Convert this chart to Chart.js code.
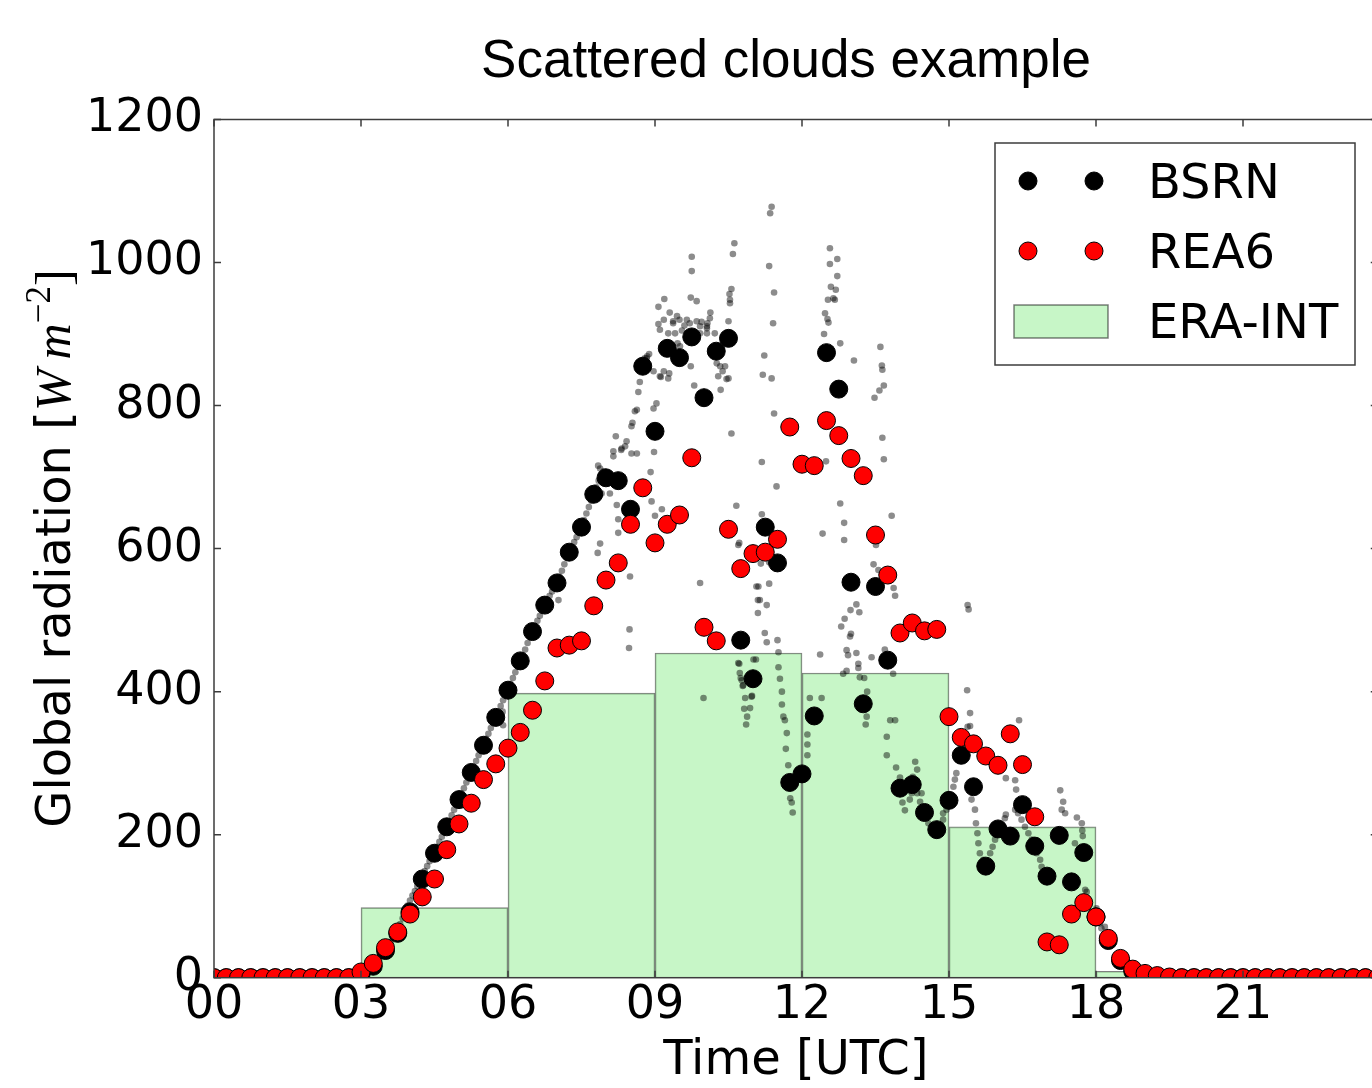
<!DOCTYPE html>
<html>
<head>
<meta charset="utf-8">
<script src="https://cdn.jsdelivr.net/npm/chart.js@4.4.1/dist/chart.umd.min.js"></script>
<style>
  html, body { margin: 0; padding: 0; overflow: hidden; background: #fff; }
  #wrap { width: 1400px; height: 1088px; }
</style>
</head>
<body>
<div id="wrap"><canvas id="chart" width="1400" height="1088"></canvas></div>
<script>
const chartTitle = 'Scattered clouds example';
const xTitle = 'Time [UTC]';

const xTickValues = [0, 3, 6, 9, 12, 15, 18, 21];
const xTickLabels = ['00', '03', '06', '09', '12', '15', '18', '21'];
const yTickValues = [0, 200, 400, 600, 800, 1000, 1200];

// 15 min time steps (hours UTC)
const quarterHours = [
  0, 0.25, 0.5, 0.75, 1, 1.25, 1.5, 1.75, 2, 2.25, 2.5, 2.75,
  3, 3.25, 3.5, 3.75, 4, 4.25, 4.5, 4.75, 5, 5.25, 5.5, 5.75,
  6, 6.25, 6.5, 6.75, 7, 7.25, 7.5, 7.75, 8, 8.25, 8.5, 8.75,
  9, 9.25, 9.5, 9.75, 10, 10.25, 10.5, 10.75, 11, 11.25, 11.5, 11.75,
  12, 12.25, 12.5, 12.75, 13, 13.25, 13.5, 13.75, 14, 14.25, 14.5, 14.75,
  15, 15.25, 15.5, 15.75, 16, 16.25, 16.5, 16.75, 17, 17.25, 17.5, 17.75,
  18, 18.25, 18.5, 18.75, 19, 19.25, 19.5, 19.75, 20, 20.25, 20.5, 20.75,
  21, 21.25, 21.5, 21.75, 22, 22.25, 22.5, 22.75, 23, 23.25, 23.5, 23.75
];

// BSRN 15 min means
const bsrn = [
  0, 0, 0, 0, 0, 0, 0, 0, 0, 0, 0, 0,
  4, 16, 38, 62, 92, 138, 174, 211, 249, 287, 325, 364,
  402, 443, 484, 521, 552, 595, 630, 676, 699, 695, 655, 855,
  764, 880, 867, 896, 811, 876, 894, 472, 418, 630, 580, 273,
  285, 366, 874, 823, 553, 383, 547, 444, 265, 270, 231, 207,
  248, 311, 267, 156, 208, 198, 242, 184, 142, 199, 134, 175,
  85, 52, 24, 9, 3, 1, 0, 0, 0, 0, 0, 0,
  0, 0, 0, 0, 0, 0, 0, 0, 0, 0, 0, 0
];

// REA6 15 min values
const rea6 = [
  0, 0, 0, 0, 0, 0, 0, 0, 0, 0, 0, 0,
  8, 20, 42, 64, 89, 113, 138, 179, 215, 244, 277, 299,
  321, 343, 374, 415, 461, 465, 471, 520, 556, 580, 634, 685,
  608, 634, 647, 727, 490, 471, 627, 572, 593, 595, 613, 770,
  718, 716, 779, 758, 726, 702, 619, 563, 482, 496, 485, 487,
  365, 336, 327, 310, 297, 341, 298, 225, 50, 46, 89, 105,
  85, 55, 27, 12, 6, 3, 1, 0, 0, 0, 0, 0,
  0, 0, 0, 0, 0, 0, 0, 0, 0, 0, 0, 0
];

// ERA-INT 3-hourly means (bar centres)
const eraCenters = [1.5, 4.5, 7.5, 10.5, 13.5, 16.5, 19.5, 22.5];
const eraValues = [0, 98, 398, 454, 426, 211, 9, 0];

// BSRN 1 min samples [hour, value]
const bsrnMinute = [
  [3.50, 40], [3.55, 45], [3.60, 50], [3.65, 56], [3.70, 62], [3.75, 68], [3.80, 75], [3.85, 83],
  [3.90, 92], [3.95, 101], [4.00, 108], [4.05, 115], [4.10, 121], [4.15, 128], [4.20, 135], [4.25, 142],
  [4.30, 149], [4.35, 156], [4.40, 163], [4.45, 170], [4.50, 176], [4.55, 183], [4.60, 190], [4.65, 197],
  [4.70, 205], [4.75, 212], [4.80, 219], [4.85, 227], [4.90, 235], [4.95, 243], [5.00, 250], [5.05, 258],
  [5.10, 265], [5.15, 273], [5.20, 280], [5.25, 288], [5.30, 295], [5.35, 303], [5.40, 311], [5.45, 318],
  [5.50, 326], [5.55, 334], [5.60, 341], [5.65, 349], [5.70, 357], [5.75, 364], [5.80, 372], [5.85, 380],
  [5.90, 388], [5.95, 395], [6.00, 403], [6.05, 411], [6.10, 419], [6.15, 427], [6.20, 435], [6.25, 443],
  [6.30, 451], [6.35, 459], [6.40, 468], [6.45, 476], [6.50, 484], [6.55, 491], [6.60, 499], [6.65, 506],
  [6.70, 513], [6.75, 521], [6.80, 528], [6.85, 534], [6.90, 540], [6.95, 546], [7.00, 553], [7.05, 561],
  [7.10, 569], [7.15, 578], [7.20, 587], [7.25, 595], [7.30, 602], [7.35, 609], [7.40, 616], [7.45, 623],
  [7.50, 630], [7.55, 640], [7.60, 649], [7.65, 658], [7.70, 667], [7.75, 676], [7.80, 686], [7.85, 695],
  [7.90, 703], [7.95, 708], [5.89, 372], [5.90, 353], [7.03, 528],
  [7.84, 716], [7.88, 712], [7.91, 677], [8.08, 677], [8.22, 661], [8.25, 641], [8.25, 622], [7.88, 607],
  [7.83, 594], [8.15, 736], [8.15, 729], [8.20, 757], [8.31, 738], [8.32, 740], [8.39, 743], [8.42, 750],
  [8.52, 733], [8.63, 733], [8.98, 735], [8.49, 561], [8.48, 487], [8.47, 461],
  [8.52, 771], [8.54, 776], [8.59, 792], [8.63, 794], [8.66, 819], [8.69, 833], [8.79, 866], [8.84, 869],
  [8.88, 872], [8.83, 866], [8.97, 796], [9.03, 803], [8.97, 848], [9.10, 841], [9.12, 840], [9.18, 848],
  [9.27, 838], [9.29, 845], [8.91, 707], [8.93, 666], [9.14, 655], [9.00, 646],
  [9.07, 914], [9.10, 906], [9.18, 920], [9.27, 901], [9.37, 918], [9.37, 915], [9.41, 901], [9.07, 938],
  [9.19, 949], [9.46, 887], [9.51, 883], [9.55, 905], [9.60, 912], [9.65, 920], [9.45, 925], [9.30, 930],
  [9.50, 920], [9.73, 951], [9.85, 946], [9.75, 1008], [9.75, 988],
  [9.71, 915], [9.85, 918], [9.95, 917], [10.06, 911], [10.12, 922], [10.13, 930], [10.07, 915], [9.92, 911],
  [10.06, 908], [9.92, 901], [10.06, 901], [10.22, 901], [9.73, 855], [9.80, 828],
  [10.26, 859], [10.29, 869], [10.33, 855], [10.38, 848], [10.43, 855], [10.29, 841], [10.46, 837], [10.50, 838],
  [10.34, 822], [10.50, 918], [10.52, 956], [10.53, 943], [10.56, 963], [10.53, 948], [10.59, 1012], [10.62, 1027],
  [10.56, 761], [10.66, 660], [10.70, 605], [10.72, 608], [9.92, 552], [9.99, 391],
  [10.70, 440], [10.72, 439], [10.73, 426], [10.75, 419], [10.77, 416], [10.79, 408], [10.80, 409], [10.84, 391],
  [10.82, 376], [10.88, 365], [10.86, 354], [10.98, 394], [10.94, 377], [11.01, 445], [11.06, 445], [10.97, 393],
  [11.07, 547], [11.10, 528], [11.10, 510], [11.11, 547], [11.14, 528], [11.28, 521], [11.33, 551], [11.16, 579],
  [11.33, 581], [11.18, 648], [11.18, 721], [11.48, 687], [11.43, 789],
  [11.20, 843], [11.38, 838], [11.23, 870], [11.41, 915], [11.43, 958], [11.33, 995], [11.35, 1069], [11.38, 1078],
  [11.24, 482], [11.28, 469], [11.50, 472], [11.52, 455],
  [11.52, 434], [11.55, 418], [11.59, 400], [11.59, 382], [11.62, 365], [11.65, 360], [11.69, 342], [11.67, 320],
  [11.72, 297], [11.76, 251], [11.79, 245], [11.81, 231],
  [12.11, 340], [12.11, 326], [12.11, 311], [12.15, 365], [12.16, 391], [12.40, 391], [12.37, 452],
  [12.42, 621], [12.49, 722],
  [12.45, 900], [12.47, 929], [12.52, 921], [12.54, 916], [12.53, 948], [12.59, 966], [12.64, 950], [12.67, 948],
  [12.69, 962], [12.72, 981], [12.57, 998], [12.72, 1005], [12.57, 1020],
  [12.78, 887], [12.78, 663], [12.86, 636], [12.86, 612], [13.06, 863],
  [12.80, 491], [12.87, 502], [12.91, 458], [12.94, 451], [12.98, 477], [13.00, 481], [12.99, 514], [13.11, 522],
  [13.17, 511], [12.84, 425], [12.91, 429], [13.15, 433], [13.18, 420],
  [13.11, 454], [13.15, 439], [13.27, 419], [13.33, 400], [13.32, 365], [13.30, 354],
  [13.42, 448], [13.69, 459], [13.86, 425], [13.46, 578], [13.56, 570], [13.51, 605], [13.83, 646], [13.87, 545],
  [13.90, 534], [13.60, 882], [13.63, 856], [13.64, 850], [13.67, 828], [13.58, 821], [13.48, 811], [13.64, 755],
  [13.67, 725], [13.80, 360], [13.90, 360], [13.73, 337], [13.73, 311], [13.92, 294],
  [14.00, 280], [14.05, 245], [14.07, 260], [14.10, 234],
  [14.31, 302], [14.35, 291], [14.26, 281], [14.24, 258], [14.35, 258], [14.20, 249], [14.44, 258], [14.41, 246],
  [14.58, 216], [14.88, 221], [14.88, 230], [14.95, 235], [15.09, 267], [15.12, 277], [15.15, 286],
  [15.38, 521], [15.40, 515], [15.37, 402], [15.43, 370], [15.38, 351], [15.43, 352],
  [15.46, 249], [15.53, 235], [15.55, 216], [15.58, 202], [15.60, 188], [15.63, 174], [15.70, 165],
  [15.84, 174], [15.89, 183], [15.94, 193], [16.04, 202], [16.14, 223], [16.16, 228],
  [16.16, 279], [16.35, 276], [16.37, 263], [16.43, 360],
  [16.35, 235], [16.41, 230], [16.48, 221], [16.55, 211], [16.62, 202], [16.69, 193], [16.79, 174], [16.86, 165],
  [16.89, 155], [17.27, 262], [17.33, 246], [17.30, 235], [17.37, 230],
  [17.61, 224], [17.71, 216], [17.73, 198], [17.72, 206], [17.57, 188],
  [17.78, 123], [17.81, 120], [18.01, 97], [18.08, 76], [18.11, 69], [18.18, 71]
];

const BLACK = '#000000';
const RED = '#ff0000';
const ERA_FILL = 'rgba(144, 238, 144, 0.5)';
const ERA_EDGE = 'rgba(0, 0, 0, 0.5)';
const SPINE = '#3c3c3c';

// box, ticks pointing inwards on all four sides
const frame = {
  id: 'frame',
  afterDatasetsDraw(chart) {
    const { ctx, chartArea: a, scales: { x, y } } = chart;
    ctx.save();
    ctx.strokeStyle = SPINE;
    ctx.lineWidth = 1.5;
    ctx.strokeRect(a.left, a.top, a.right - a.left, a.bottom - a.top);
    ctx.beginPath();
    xTickValues.forEach(v => {
      const px = x.getPixelForValue(v);
      ctx.moveTo(px, a.bottom); ctx.lineTo(px, a.bottom - 7);
      ctx.moveTo(px, a.top); ctx.lineTo(px, a.top + 7);
    });
    yTickValues.forEach(v => {
      const py = y.getPixelForValue(v);
      ctx.moveTo(a.left, py); ctx.lineTo(a.left + 7, py);
      ctx.moveTo(a.right, py); ctx.lineTo(a.right - 7, py);
    });
    ctx.stroke();
    ctx.restore();
  }
};

const texts = {
  id: 'texts',
  afterDraw(chart) {
    const { ctx, chartArea: a } = chart;
    ctx.save();
    ctx.fillStyle = '#000';

    // title
    ctx.font = '53px "Liberation Sans"';
    ctx.textAlign = 'center';
    ctx.textBaseline = 'alphabetic';
    ctx.fillText(chartTitle, 786, 77);

    // x axis title
    ctx.font = '48px "DejaVu Sans"';
    ctx.fillText(xTitle, (a.left + a.right) / 2, 1074);

    // y axis title with mathtext part
    const parts = [
      { t: 'Global radiation [', f: '48px "DejaVu Sans"', dy: 0 },
      { t: 'W', f: 'italic 50px "Liberation Serif"', dy: 0 },
      { t: '\u2009m', f: 'italic 50px "Liberation Serif"', dy: 0 },
      { t: '\u22122', f: '35px "Liberation Serif"', dy: -20 },
      { t: ']', f: '50px "Liberation Serif"', dy: 0 }
    ];
    let total = 0;
    parts.forEach(p => { ctx.font = p.f; p.w = ctx.measureText(p.t).width; total += p.w; });
    ctx.translate(70, (a.top + a.bottom) / 2);
    ctx.rotate(-Math.PI / 2);
    ctx.textAlign = 'left';
    let px = -total / 2;
    parts.forEach(p => { ctx.font = p.f; ctx.fillText(p.t, px, p.dy); px += p.w; });
    ctx.setTransform(1, 0, 0, 1, 0, 0);

    // legend
    const ds = chart.data.datasets;
    const bx = 995, by = 143, bw = 360, bh = 222;
    ctx.fillStyle = '#fff';
    ctx.fillRect(bx, by, bw, bh);
    ctx.strokeStyle = SPINE;
    ctx.lineWidth = 1.5;
    ctx.strokeRect(bx, by, bw, bh);
    const rows = [
      { ds: ds[1], y: 181 },
      { ds: ds[0], y: 251 },
      { ds: ds[3], y: 321 }
    ];
    rows.forEach(r => {
      if (r.ds.type === 'bar') {
        ctx.fillStyle = r.ds.backgroundColor;
        ctx.fillRect(1014, r.y - 16, 94, 33);
        ctx.strokeStyle = r.ds.borderColor;
        ctx.lineWidth = 1.5;
        ctx.strokeRect(1014, r.y - 16, 94, 33);
      } else {
        [1028, 1094].forEach(cx => {
          ctx.beginPath();
          ctx.arc(cx, r.y, r.ds.pointRadius, 0, Math.PI * 2);
          ctx.fillStyle = r.ds.backgroundColor;
          ctx.fill();
          ctx.strokeStyle = r.ds.borderColor;
          ctx.lineWidth = 1;
          ctx.stroke();
        });
      }
      ctx.fillStyle = '#000';
      ctx.font = '48px "DejaVu Sans"';
      ctx.textAlign = 'left';
      ctx.textBaseline = 'alphabetic';
      ctx.fillText(r.ds.label, 1148, r.y + 17);
    });
    ctx.restore();
  }
};

const tickFont = { family: 'DejaVu Sans', size: 46, lineHeight: 1 };

new Chart(document.getElementById('chart'), {
  type: 'scatter',
  data: {
    datasets: [
      {
        label: 'REA6',
        data: quarterHours.map((t, i) => ({ x: t, y: rea6[i] })),
        backgroundColor: RED,
        borderColor: BLACK,
        borderWidth: 1,
        pointRadius: 9,
        order: 0,
        clip: 0
      },
      {
        label: 'BSRN',
        data: quarterHours.map((t, i) => ({ x: t, y: bsrn[i] })),
        backgroundColor: BLACK,
        borderColor: BLACK,
        borderWidth: 1,
        pointRadius: 9,
        order: 1,
        clip: 0
      },
      {
        label: 'BSRN 1 min',
        data: bsrnMinute.map(([t, v]) => ({ x: t, y: v })),
        backgroundColor: 'rgba(0, 0, 0, 0.45)',
        borderWidth: 0,
        pointRadius: 3.3,
        order: 2,
        clip: 0
      },
      {
        type: 'bar',
        label: 'ERA-INT',
        data: eraCenters.map((t, i) => ({ x: t, y: eraValues[i] })),
        backgroundColor: ERA_FILL,
        borderColor: ERA_EDGE,
        borderWidth: 1,
        barPercentage: 1,
        categoryPercentage: 1,
        order: 3,
        clip: 0
      }
    ]
  },
  options: {
    responsive: false,
    animation: false,
    devicePixelRatio: 1,
    layout: { padding: { top: 119.5, right: 22.25, left: 0, bottom: 0 } },
    plugins: {
      legend: { display: false },
      tooltip: { enabled: false },
      title: { display: false }
    },
    scales: {
      x: {
        type: 'linear',
        min: 0,
        max: 23.75,
        offset: false,
        grid: { display: false, drawTicks: false },
        border: { display: false },
        afterFit: s => { s.height = 110.3; },
        afterBuildTicks: s => { s.ticks = xTickValues.map(v => ({ value: v })); },
        ticks: {
          autoSkip: false,
          maxRotation: 0,
          padding: 5,
          color: '#000',
          font: tickFont,
          callback: v => xTickLabels[xTickValues.indexOf(v)]
        }
      },
      y: {
        type: 'linear',
        min: 0,
        max: 1200,
        grid: { display: false, drawTicks: false },
        border: { display: false },
        afterFit: s => { s.width = 214; },
        afterBuildTicks: s => { s.ticks = yTickValues.map(v => ({ value: v })); },
        ticks: {
          padding: 11,
          color: '#000',
          font: tickFont,
          callback: v => String(v)
        }
      }
    }
  },
  plugins: [frame, texts]
});
</script>
</body>
</html>
